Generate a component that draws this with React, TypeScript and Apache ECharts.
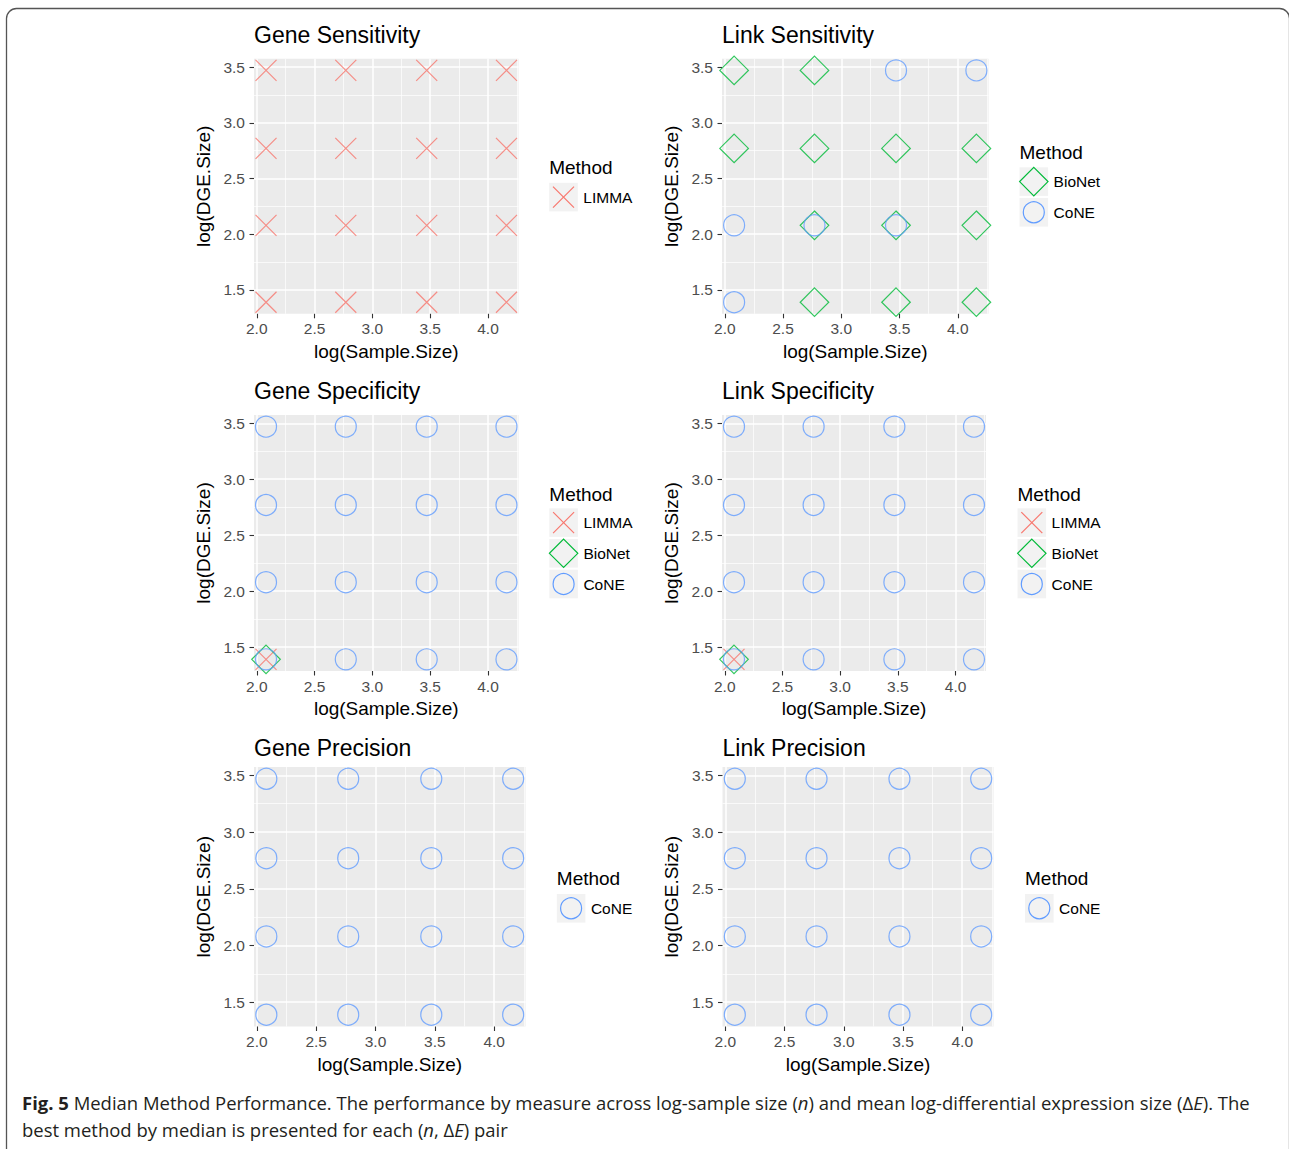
import React, { useEffect, useRef } from "react";
import * as echarts from "echarts";

// ---- data ----
const sampleSize = [2.08, 2.77, 3.47, 4.16]; // log(Sample.Size)
const dgeSize = [1.39, 2.08, 2.77, 3.47]; // log(DGE.Size)
const xTicks = [2.0, 2.5, 3.0, 3.5, 4.0];
const yTicks = [1.5, 2.0, 2.5, 3.0, 3.5];
const methodKeys = ["L", "B", "C"];
const methodNames = ["LIMMA", "BioNet", "CoNE"];
const methodColors = ["#F8766D", "#00BA38", "#619CFF"];
const panelTitles = [
  "Gene Sensitivity",
  "Link Sensitivity",
  "Gene Specificity",
  "Link Specificity",
  "Gene Precision",
  "Link Precision",
];
// best method(s) per cell: rows follow dgeSize (low -> high), columns follow sampleSize
const geneSensitivity = [
  ["L", "L", "L", "L"],
  ["L", "L", "L", "L"],
  ["L", "L", "L", "L"],
  ["L", "L", "L", "L"],
];
const linkSensitivity = [
  ["C", "B", "B", "B"],
  ["C", "BC", "BC", "B"],
  ["B", "B", "B", "B"],
  ["B", "B", "C", "C"],
];
const geneSpecificity = [
  ["LBC", "C", "C", "C"],
  ["C", "C", "C", "C"],
  ["C", "C", "C", "C"],
  ["C", "C", "C", "C"],
];
const linkSpecificity = [
  ["LBC", "C", "C", "C"],
  ["C", "C", "C", "C"],
  ["C", "C", "C", "C"],
  ["C", "C", "C", "C"],
];
const genePrecision = [
  ["C", "C", "C", "C"],
  ["C", "C", "C", "C"],
  ["C", "C", "C", "C"],
  ["C", "C", "C", "C"],
];
const linkPrecision = [
  ["C", "C", "C", "C"],
  ["C", "C", "C", "C"],
  ["C", "C", "C", "C"],
  ["C", "C", "C", "C"],
];
const panelCells = [
  geneSensitivity,
  linkSensitivity,
  geneSpecificity,
  linkSpecificity,
  genePrecision,
  linkPrecision,
];
const xTitle = "log(Sample.Size)";
const yTitle = "log(DGE.Size)";
const legendTitle = "Method";
const captionLine1Bold = "Fig. 5";
const captionLine1 =
  " Median Method Performance. The performance by measure across log-sample size ({i|n}) and mean log-differential expression size (Δ{i|E}). The";
const captionLine2 = "best method by median is presented for each ({i|n}, Δ{i|E}) pair";

// ---- layout (positions / sizes) ----
const FONT = "'Liberation Sans', Arial, Helvetica, sans-serif";
const CAPTION_FONT = "'Open Sans', 'Noto Sans', sans-serif";
const layout = [
  { left: 254, top: 58.8, width: 264.5, height: 255, titleY: 35, legX: 549.2, legTitleY: 167.7, legKeyTop: 182.8 },
  { left: 722, top: 58.8, width: 266.5, height: 255, titleY: 35, legX: 1019.5, legTitleY: 152, legKeyTop: 167.3 },
  { left: 254, top: 415, width: 264.5, height: 256, titleY: 391, legX: 549.3, legTitleY: 494, legKeyTop: 508.3 },
  { left: 722, top: 415, width: 264, height: 256, titleY: 391, legX: 1017.5, legTitleY: 494, legKeyTop: 508.3 },
  { left: 254, top: 767, width: 271.5, height: 259.5, titleY: 747.5, legX: 556.8, legTitleY: 878, legKeyTop: 894 },
  { left: 722.5, top: 767, width: 271, height: 259.5, titleY: 747.5, legX: 1025, legTitleY: 878, legKeyTop: 894 },
];
const KEY = 28.6;
const KEY_STEP = 30.7;

const X_PATH = "path://M0,0L20,20M20,0L0,20";
const symbolFor = (k: string) => (k === "L" ? X_PATH : k === "B" ? "diamond" : "circle");
const sizeFor = (k: string) => (k === "B" ? 28.6 : 21);

function expand(vals: number[]) {
  const lo = Math.min(...vals);
  const hi = Math.max(...vals);
  const pad = (hi - lo) * 0.05;
  return [lo - pad, hi + pad];
}

function legendGlyph(k: string, cx: number, cy: number, color: string): any {
  if (k === "L") {
    const h = 10.5;
    return {
      type: "group",
      children: [
        { type: "line", shape: { x1: cx - h, y1: cy - h, x2: cx + h, y2: cy + h }, style: { stroke: color, lineWidth: 1.2 } },
        { type: "line", shape: { x1: cx + h, y1: cy - h, x2: cx - h, y2: cy + h }, style: { stroke: color, lineWidth: 1.2 } },
      ],
    };
  }
  if (k === "B") {
    const h = 14.2;
    return {
      type: "polygon",
      shape: { points: [[cx, cy - h], [cx + h, cy], [cx, cy + h], [cx - h, cy]] },
      style: { fill: "none", stroke: color, lineWidth: 1.2 },
    };
  }
  return { type: "circle", shape: { cx, cy, r: 10.5 }, style: { fill: "none", stroke: color, lineWidth: 1.2 } };
}

export default function App() {
  const ref = useRef<HTMLDivElement>(null);

  useEffect(() => {
    document.body.style.margin = "0";
    document.body.style.background = "#fff";
    if (!ref.current) return;
    const chart = echarts.init(ref.current, null, { renderer: "svg" });

    const [xMin, xMax] = expand(sampleSize);
    const [yMin, yMax] = expand(dgeSize);

    // fit the caption's first line to the reference width
    let capSize = 18;
    try {
      const ctx = document.createElement("canvas").getContext("2d");
      if (ctx) {
        ctx.font = `bold 20px ${CAPTION_FONT}`;
        const wb = ctx.measureText(captionLine1Bold).width;
        ctx.font = `20px ${CAPTION_FONT}`;
        const wr = ctx.measureText(captionLine1.replace(/\{i\|([^}]*)\}/g, "$1")).width;
        capSize = (20 * 1230) / (wb + wr);
      }
    } catch (e) {}

    const grid: any[] = [];
    const xAxis: any[] = [];
    const yAxis: any[] = [];
    const series: any[] = [];
    const title: any[] = [];
    const graphic: any[] = [];

    const commonAxis = {
      type: "value",
      axisLine: { show: false },
      axisTick: { show: true, length: 4.5, lineStyle: { color: "#333333", width: 1.1 } },
      splitLine: { show: true, lineStyle: { color: "#FFFFFF", width: 1.5 } },
      minorTick: { show: false, splitNumber: 2 },
      minorSplitLine: { show: true, lineStyle: { color: "#FFFFFF", width: 0.7 } },
      nameLocation: "middle",
      nameTextStyle: { fontSize: 19, color: "#000000", fontFamily: FONT },
    };

    panelCells.forEach((cells, p) => {
      const L = layout[p];
      grid.push({
        left: L.left,
        top: L.top,
        width: L.width,
        height: L.height,
        show: true,
        backgroundColor: "#EBEBEB",
        borderWidth: 0,
        containLabel: false,
      });
      xAxis.push({
        ...commonAxis,
        gridIndex: p,
        min: xMin,
        max: xMax,
        axisTick: { ...commonAxis.axisTick, customValues: xTicks },
        axisLabel: {
          customValues: xTicks,
          formatter: (v: number) => v.toFixed(1),
          color: "#4D4D4D",
          fontSize: 15.5,
          fontFamily: FONT,
          margin: 7,
        },
        name: xTitle,
        nameGap: 28,
      });
      yAxis.push({
        ...commonAxis,
        gridIndex: p,
        min: yMin,
        max: yMax,
        axisTick: { ...commonAxis.axisTick, customValues: yTicks },
        axisLabel: {
          customValues: yTicks,
          formatter: (v: number) => v.toFixed(1),
          color: "#4D4D4D",
          fontSize: 15.5,
          fontFamily: FONT,
          margin: 9,
        },
        name: yTitle,
        nameGap: 41.5,
      });
      title.push({
        text: panelTitles[p],
        left: L.left,
        top: L.titleY - 11.5,
        padding: 0,
        textStyle: { fontSize: 23, fontWeight: "normal", color: "#000000", fontFamily: FONT },
      });

      const present: number[] = [];
      methodKeys.forEach((k, m) => {
        const pts: number[][] = [];
        cells.forEach((row, i) =>
          row.forEach((cell, j) => {
            if (cell.includes(k)) pts.push([sampleSize[j], dgeSize[i]]);
          })
        );
        if (!pts.length) return;
        present.push(m);
        series.push({
          type: "scatter",
          name: methodNames[m],
          xAxisIndex: p,
          yAxisIndex: p,
          symbol: symbolFor(k),
          symbolSize: sizeFor(k),
          data: pts,
          silent: true,
          itemStyle: { color: "rgba(0,0,0,0)", borderColor: methodColors[m], borderWidth: 1.2 },
        });
      });

      // legend (ggplot style keys)
      graphic.push({
        type: "text",
        x: L.legX,
        y: L.legTitleY,
        style: { text: legendTitle, fontSize: 19, fontFamily: FONT, fill: "#000000", verticalAlign: "middle", align: "left" },
        silent: true,
      });
      present.forEach((m, idx) => {
        const top = L.legKeyTop + idx * KEY_STEP;
        const cx = L.legX + KEY / 2;
        const cy = top + KEY / 2;
        graphic.push({ type: "rect", shape: { x: L.legX, y: top, width: KEY, height: KEY }, style: { fill: "#F2F2F2" }, silent: true });
        graphic.push({ ...legendGlyph(methodKeys[m], cx, cy, methodColors[m]), silent: true });
        graphic.push({
          type: "text",
          x: L.legX + KEY + 5.5,
          y: cy,
          style: { text: methodNames[m], fontSize: 15.5, fontFamily: FONT, fill: "#000000", verticalAlign: "middle", align: "left" },
          silent: true,
        });
      });
    });

    // figure frame
    graphic.unshift({
      type: "rect",
      shape: { x: 6.5, y: 8.5, width: 1283, height: 1200, r: 10 },
      style: { fill: "none", stroke: "#555555", lineWidth: 1.3 },
      silent: true,
      z: -10,
    });

    // caption
    const rich = {
      b: { fontWeight: "bold", fontSize: capSize, fontFamily: CAPTION_FONT, fill: "#231F20" },
      i: { fontStyle: "italic", fontSize: capSize, fontFamily: CAPTION_FONT, fill: "#231F20" },
    };
    graphic.push({
      type: "text",
      x: 22,
      y: 1102.5,
      style: {
        text: `{b|${captionLine1Bold}}${captionLine1}`,
        rich,
        fontSize: capSize,
        fontFamily: CAPTION_FONT,
        fill: "#231F20",
        verticalAlign: "middle",
        align: "left",
      },
      silent: true,
    });
    graphic.push({
      type: "text",
      x: 22,
      y: 1129,
      style: {
        text: captionLine2,
        rich,
        fontSize: capSize,
        fontFamily: CAPTION_FONT,
        fill: "#231F20",
        verticalAlign: "middle",
        align: "left",
      },
      silent: true,
    });

    chart.setOption({
      animation: false,
      backgroundColor: "#FFFFFF",
      title,
      grid,
      xAxis,
      yAxis,
      series,
      graphic,
    });

    return () => chart.dispose();
  }, []);

  return <div ref={ref} style={{ width: 1289, height: 1149 }} />;
}
